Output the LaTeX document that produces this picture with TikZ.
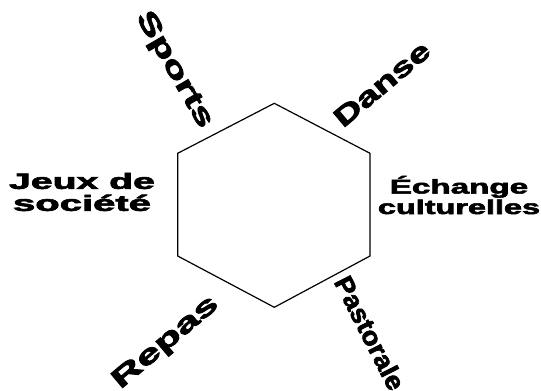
\documentclass[tikz,border=0pt]{standalone}
\usepackage{fontspec}
\newfontfamily\heavy{Liberation Sans Bold}[FakeBold=2.5]
\begin{document}
\begin{tikzpicture}[x=1pt,y=-1pt,
  hexline/.style={line width=1.2pt, line join=miter},
  lab/.style={inner sep=0pt, align=center, font=\heavy\fontsize{#1}{#1}\selectfont},
  lab/.default=27]
\useasboundingbox (0,0) rectangle (541,391);
\coordinate (t)  at (274.3,103.3);
\coordinate (ur) at (370,153.3);
\coordinate (lr) at (370,256);
\coordinate (b)  at (274.3,307.3);
\coordinate (ll) at (177.7,256);
\coordinate (ul) at (177.7,153.3);
\draw[hexline] (t) -- (ur) -- (lr) -- (b) -- (ll) -- (ul) -- cycle;

\node[lab=22, font=\heavy\fontsize{22}{22}\selectfont] (jeux) at (82,192)
  {\scalebox{1.78}[1]{Jeux de}\\\scalebox{1.82}[1]{société}};
\node[lab=20, font=\heavy\fontsize{20}{20.5}\selectfont] (echange) at (459,195)
  {\scalebox{1.66}[1]{Échange}\\\scalebox{1.62}[1]{culturelles}};

\node[lab, rotate=-60] (sports) at (174,70) {\scalebox{1.52}[1]{Sports}};
\node[lab, rotate=40] (danse) at (382,84) {\scalebox{1.44}[1]{Danse}};
\node[lab, rotate=40] (repas) at (166,343) {\scalebox{1.6}[1]{Repas}};
\node[lab=26, rotate=-63] (pastorale) at (370,333) {\scalebox{1.06}[1]{Pastorale}};
\end{tikzpicture}
\end{document}
